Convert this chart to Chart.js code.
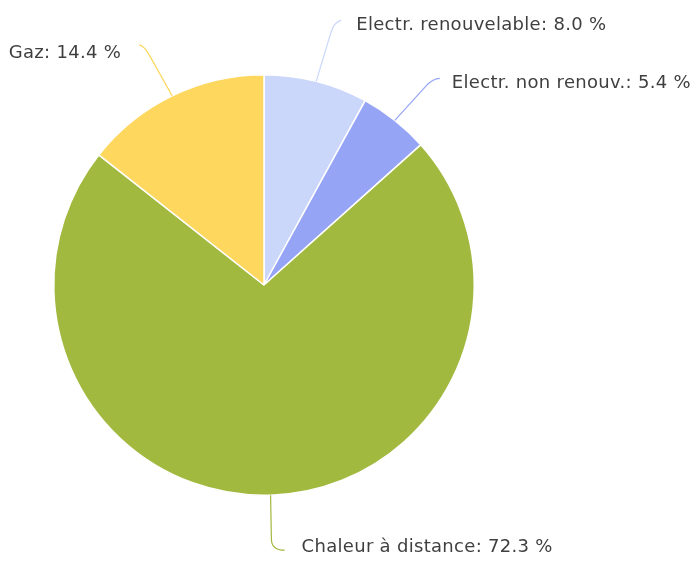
<!DOCTYPE html>
<html>
<head>
<meta charset="utf-8">
<script src="https://cdn.jsdelivr.net/npm/chart.js@4"></script>
<style>
  html, body { margin: 0; padding: 0; background: #fff; }
  #wrap { width: 697px; height: 562px; }
</style>
</head>
<body>
<div id="wrap"><canvas id="pieChart" width="697" height="562"></canvas></div>
<script>
// data
var categories = ['Electr. renouvelable', 'Electr. non renouv.', 'Chaleur à distance', 'Gaz'];
var shares = [8.0, 5.4, 72.3, 14.4];
var sliceColors = ['#cad7fb', '#96a4f6', '#a2b93f', '#fed75f'];

// label placement relative to the slice edge point (text dx/dy, connector corner, connector end)
var labelLayout = [
    { dx: 40, dy: -56, align: 'left', corner: [18, -60], end: [25, -61] },
    { dx: 57, dy: -37, align: 'left', corner: [38, -42], end: [45, -42] },
    { dx: 31, dy: 52, align: 'left', corner: [1, 55], end: [14, 55] },
    { dx: -51, dy: -43, align: 'right', corner: [-28, -50], end: [-33, -51] }
];

var pieLabels = {
    id: 'pieLabels',
    afterDatasetsDraw: function (chart) {
        var ctx = chart.ctx;
        var meta = chart.getDatasetMeta(0);
        ctx.save();
        ctx.font = '18px "DejaVu Sans", Verdana, sans-serif';
        ctx.letterSpacing = '0.3px';
        ctx.textBaseline = 'middle';
        meta.data.forEach(function (arc, i) {
            var p = arc.getProps(['x', 'y', 'startAngle', 'endAngle', 'outerRadius'], true);
            var mid = (p.startAngle + p.endAngle) / 2;
            var ex = p.x + Math.cos(mid) * p.outerRadius;
            var ey = p.y + Math.sin(mid) * p.outerRadius;
            var lay = labelLayout[i];

            var cx = ex + lay.corner[0], cy = ey + lay.corner[1];
            var tx = ex + lay.end[0], ty = ey + lay.end[1];
            // straight part, then soft bend into the label
            var bx = ex + (cx - ex) * 0.8, by = ey + (cy - ey) * 0.8;
            ctx.beginPath();
            ctx.moveTo(ex, ey);
            ctx.lineTo(bx, by);
            ctx.quadraticCurveTo(cx, cy, tx, ty);
            ctx.strokeStyle = sliceColors[i];
            ctx.lineWidth = 1.2;
            ctx.stroke();

            ctx.fillStyle = '#3f3f3f';
            ctx.textAlign = lay.align;
            ctx.fillText(categories[i] + ': ' + shares[i].toFixed(1) + ' %', ex + lay.dx, ey + lay.dy);
        });
        ctx.restore();
    }
};

var chart = new Chart(document.getElementById('pieChart').getContext('2d'), {
    type: 'pie',
    data: {
        labels: categories,
        datasets: [{
            data: shares,
            backgroundColor: sliceColors,
            borderColor: '#ffffff',
            borderWidth: 1.5
        }]
    },
    options: {
        responsive: false,
        animation: false,
        layout: {
            padding: { left: 53, top: 74, right: 222, bottom: 66 }
        },
        plugins: {
            legend: { display: false },
            tooltip: { enabled: false }
        }
    },
    plugins: [pieLabels]
});
</script>
</body>
</html>
